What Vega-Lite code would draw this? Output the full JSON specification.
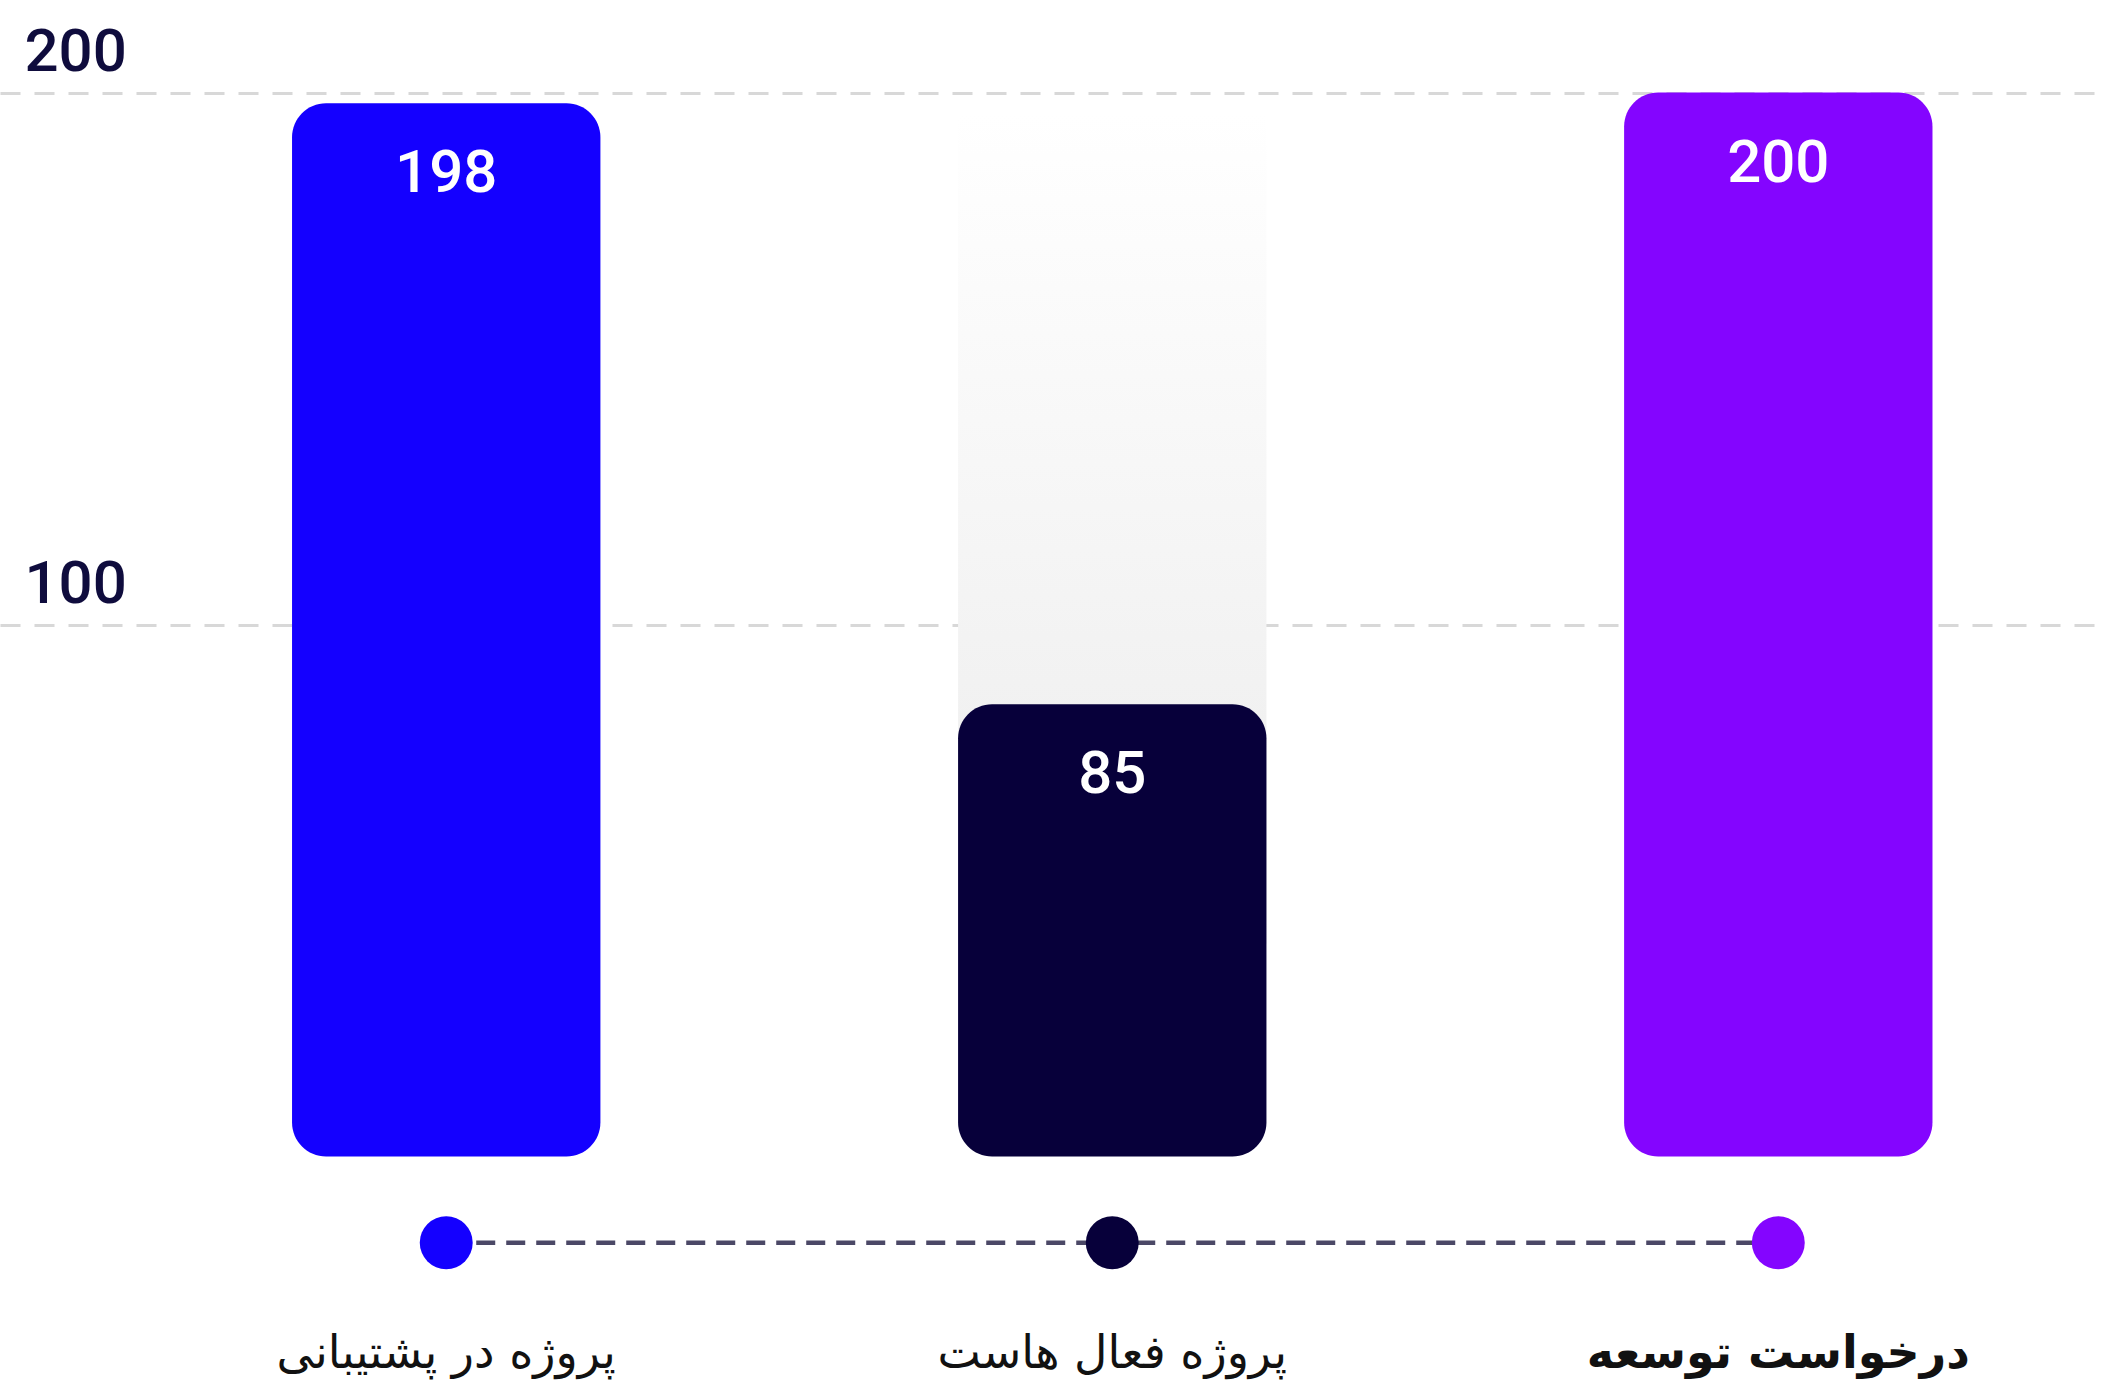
{
  "$schema": "https://vega.github.io/schema/vega-lite/v6.json",
  "width": 2104,
  "height": 1381,
  "autosize": {"type": "none"},
  "padding": 0,
  "background": "#ffffff",
  "config": {"view": {"stroke": null}},
  "data": {
    "values": [
      {"category": "پروژه در پشتیبانی", "value": 198, "track": null},
      {"category": "پروژه فعال هاست", "value": 85, "track": 196},
      {"category": "درخواست توسعه", "value": 200, "track": null}
    ]
  },
  "encoding": {
    "x": {
      "field": "category",
      "type": "nominal",
      "sort": null,
      "scale": {
        "domain": ["پروژه در پشتیبانی", "پروژه فعال هاست", "درخواست توسعه"],
        "paddingInner": 0.537,
        "paddingOuter": 0.348,
        "align": 0.63
      },
      "axis": {
        "orient": "bottom",
        "title": null,
        "domain": false,
        "ticks": false,
        "tickSize": 0,
        "grid": false,
        "labelAngle": 0,
        "labelPadding": -28,
        "labelBaseline": "middle",
        "labelFont": "DejaVu Sans",
        "labelFontSize": 46,
        "labelColor": "#111111",
        "labelLimit": 800,
        "labelOverlap": false,
        "labelFlush": false,
        "labelFontWeight": {"condition": {"test": "datum.value == 'درخواست توسعه'", "value": "bold"}, "value": "normal"}
      }
    }
  },
  "layer": [
    {
      "transform": [{"filter": "isValid(datum.track)"}],
      "mark": {
        "type": "bar",
        "color": {
          "gradient": "linear",
          "x1": 0, "y1": 0, "x2": 0, "y2": 1,
          "stops": [
            {"offset": 0, "color": "#ffffff"},
            {"offset": 1, "color": "#ececec"}
          ]
        }
      },
      "encoding": {
        "y": {
          "field": "track",
          "type": "quantitative",
          "scale": {"domain": [-42.2, 217.4], "nice": false, "zero": false},
          "axis": {
            "values": [100, 200],
            "title": null,
            "domain": false,
            "ticks": false,
            "tickSize": 0,
            "grid": true,
            "gridColor": "#d8d8d8",
            "gridWidth": 3,
            "gridDash": [20, 14],
            "labelPadding": -24,
            "labelAlign": "left",
            "labelBaseline": "alphabetic",
            "labelOffset": -22,
            "labelFont": "Roboto",
            "labelFontSize": 60,
            "labelFontWeight": 500,
            "labelColor": "#0f0c3d"
          }
        },
        "y2": {"datum": 40}
      }
    },
    {
      "mark": {"type": "bar", "cornerRadius": 34},
      "encoding": {
        "y": {"field": "value", "type": "quantitative"},
        "y2": {"datum": 0},
        "color": {
          "field": "category",
          "type": "nominal",
          "scale": {
            "domain": ["پروژه در پشتیبانی", "پروژه فعال هاست", "درخواست توسعه"],
            "range": ["#1400ff", "#07003a", "#8405ff"]
          },
          "legend": null
        }
      }
    },
    {
      "mark": {
        "type": "text",
        "dy": 71,
        "baseline": "middle",
        "align": "center",
        "font": "Roboto",
        "fontSize": 60,
        "fontWeight": 500,
        "color": "#ffffff"
      },
      "encoding": {
        "y": {"field": "value", "type": "quantitative"},
        "text": {"field": "value", "type": "quantitative"}
      }
    },
    {
      "mark": {"type": "line", "strokeDash": [19, 11], "strokeWidth": 4.5, "color": "#4b4866"},
      "encoding": {
        "y": {"datum": -16.2}
      }
    },
    {
      "mark": {"type": "point", "filled": true, "opacity": 1, "size": 2800},
      "encoding": {
        "y": {"datum": -16.2},
        "color": {"field": "category", "type": "nominal", "legend": null}
      }
    }
  ]
}
